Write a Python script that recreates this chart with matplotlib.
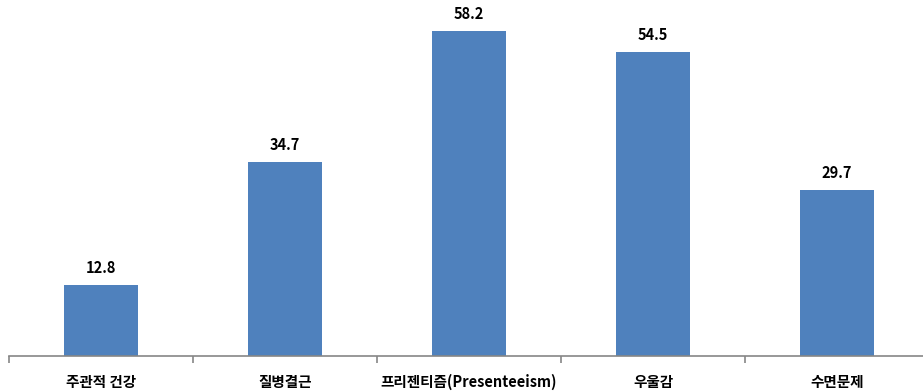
import matplotlib.pyplot as plt
import numpy as np

plt.rcParams['font.family'] = ['Noto Sans CJK KR', 'DejaVu Sans']

categories = ['주관적 건강', '질병결근', '프리젠티즘(Presenteeism)', '우울감', '수면문제']
values = [12.8, 34.7, 58.2, 54.5, 29.7]

fig = plt.figure(figsize=(9.23, 3.92), dpi=100)
ax = fig.add_axes([9 / 923, 36 / 392, 920 / 923, 356 / 392])

x = np.arange(len(categories))
ax.bar(x, values, width=0.4, color='#4F81BD')

for xi, v in zip(x, values):
    ax.text(xi, v + 1.6, f'{v}', ha='center', va='bottom', fontsize=10.5, fontweight='bold')

ax.set_xlim(-0.5, len(categories) - 0.5)
ax.set_ylim(0, 63.75)

for s in ['top', 'right', 'left']:
    ax.spines[s].set_visible(False)
ax.spines['bottom'].set_color('#868686')
ax.spines['bottom'].set_linewidth(1.2)
ax.set_yticks([])

ax.set_xticks(np.arange(len(categories) + 1) - 0.5, minor=False)
ax.set_xticklabels([])
ax.tick_params(axis='x', direction='out', length=5, color='#868686', width=1.2)
ax.set_xticks(x, minor=True)
ax.set_xticklabels(categories, minor=True, fontsize=10.5, fontweight='bold')
ax.tick_params(axis='x', which='minor', length=0, pad=13)

plt.savefig('out.png', dpi=100)
